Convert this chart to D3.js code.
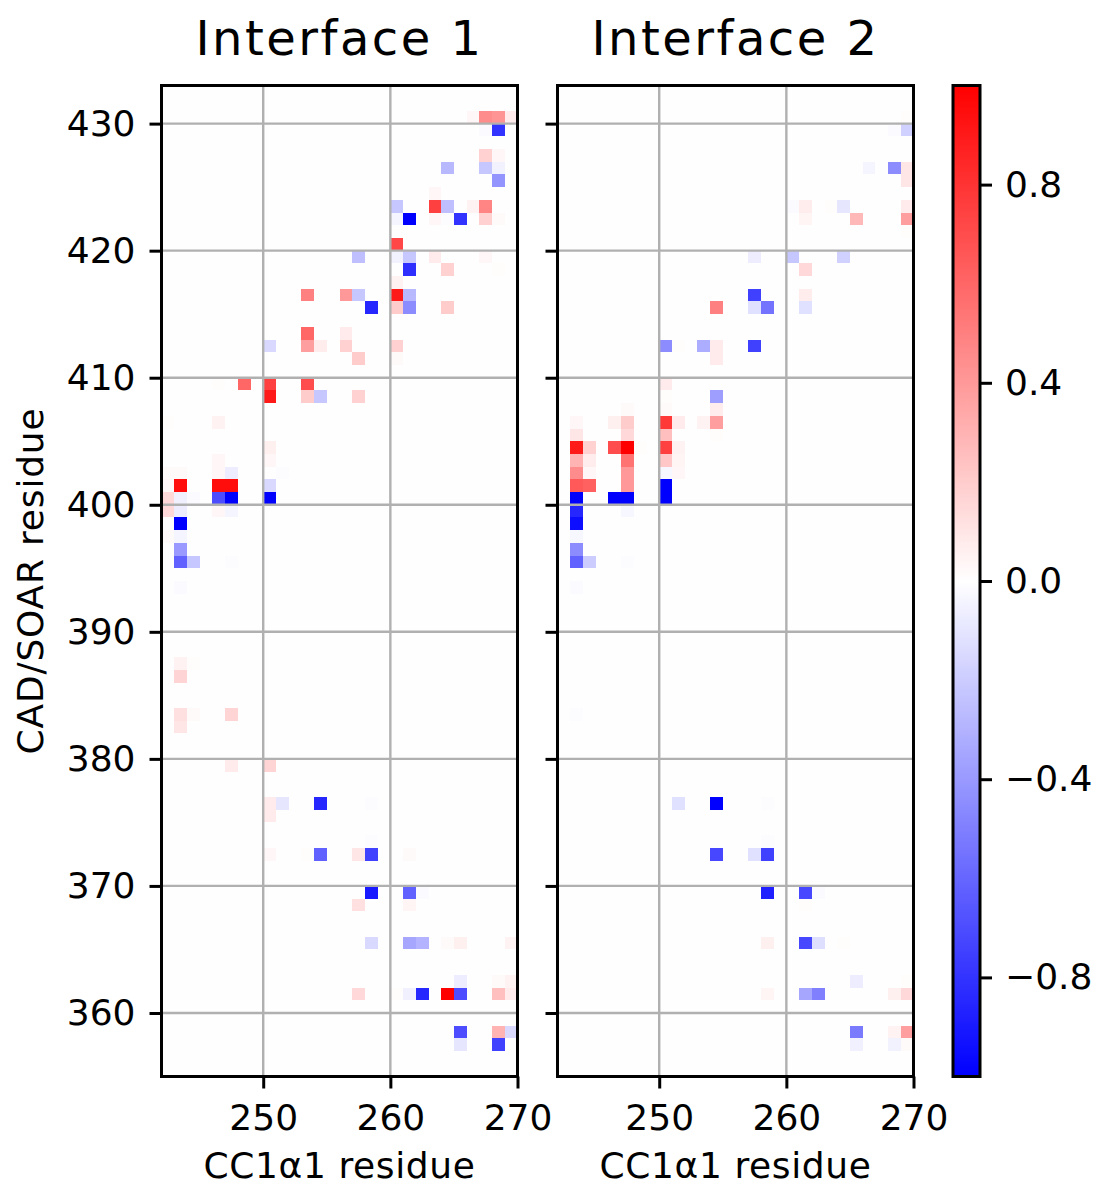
<!DOCTYPE html>
<html>
<head>
<meta charset="utf-8">
<script src="https://cdn.jsdelivr.net/npm/d3@7"></script>
<style>
  body { margin: 0; background: #fff; }
  text { font-family: "DejaVu Sans", sans-serif; fill: #000; }
</style>
</head>
<body>
<div id="chart"></div>
<script>
// tick values and titles
const xTicks = [250, 260, 270];
const yTicks = [360, 370, 380, 390, 400, 410, 420, 430];
const cbTicks = [-0.8, -0.4, 0.0, 0.4, 0.8];
const panelTitles = ["Interface 1", "Interface 2"];

// cells: [CC1a1 residue, CAD/SOAR residue, value]
const interface1 = [
  [266,430,0.03],[267,430,0.45],[268,430,0.42],[269,430,0.08],
  [267,429,-0.02],[268,429,-0.8],
  [267,427,0.18],[268,427,0.03],
  [264,426,-0.28],[267,426,-0.22],[268,426,-0.05],
  [268,425,-0.42],
  [263,424,0.03],
  [260,423,-0.22],[263,423,0.75],[264,423,-0.25],[266,423,0.05],[267,423,0.48],
  [260,422,-0.04],[261,422,-1.0],[263,422,0.03],[264,422,-0.01],[265,422,-0.8],[267,422,0.18],[268,422,0.02],
  [260,420,0.72],
  [257,419,-0.25],[260,419,-0.05],[261,419,-0.22],[263,419,0.08],[267,419,0.03],
  [261,418,-0.82],[264,418,0.18],[268,418,0.01],
  [260,417,0.05],
  [253,416,0.5],[256,416,0.4],[257,416,-0.22],[260,416,0.9],[261,416,-0.28],
  [258,415,-0.85],[260,415,0.2],[261,415,-0.45],[264,415,0.2],
  [253,413,0.6],[256,413,0.08],
  [250,412,-0.15],[253,412,0.38],[254,412,0.07],[256,412,0.18],[260,412,0.18],
  [257,411,0.2],[260,411,0.02],
  [246,409,0.01],[248,409,0.6],[250,409,0.75],[253,409,0.7],
  [250,408,0.9],[253,408,0.2],[254,408,-0.22],[257,408,0.18],
  [242,406,0.01],[246,406,0.05],
  [250,404,0.06],
  [246,403,0.03],[250,403,0.03],
  [242,402,0.02],[243,402,0.02],[246,402,0.03],[247,402,-0.07],[251,402,-0.01],
  [242,401,0.03],[243,401,0.95],[246,401,0.95],[247,401,0.95],[250,401,-0.15],
  [242,400,0.15],[243,400,-0.06],[244,400,-0.02],[246,400,-0.7],[247,400,-1.0],[250,400,-1.0],
  [242,399,0.15],[243,399,-0.07],[246,399,0.03],[247,399,-0.04],
  [243,398,-1.0],
  [242,397,0.02],[243,397,-0.04],
  [243,396,-0.4],
  [243,395,-0.62],[244,395,-0.22],[247,395,-0.01],
  [243,393,-0.02],
  [243,387,0.05],[244,387,0.01],
  [243,386,0.17],
  [243,383,0.12],[244,383,0.02],[247,383,0.17],
  [243,382,0.1],
  [247,379,0.08],[250,379,0.17],
  [250,376,0.08],[251,376,-0.1],[254,376,-0.85],[258,376,-0.01],
  [250,375,0.08],
  [258,373,-0.01],
  [250,372,0.03],[253,372,0.01],[254,372,-0.62],[257,372,0.1],[258,372,-0.75],[261,372,0.02],
  [258,369,-0.9],[261,369,-0.62],[262,369,-0.02],
  [257,368,0.12],[261,368,0.04],
  [258,365,-0.15],[261,365,-0.35],[262,365,-0.3],[264,365,0.02],[265,365,0.06],[269,365,0.05],
  [265,362,-0.07],[268,362,0.02],[269,362,0.05],
  [257,361,0.15],[260,361,0.01],[261,361,-0.06],[262,361,-0.85],[264,361,1.0],[265,361,-0.7],[268,361,0.25],[269,361,0.08],
  [265,358,-0.7],[268,358,0.3],[269,358,-0.15],
  [265,357,-0.1],[268,357,-0.75]
];

const interface2 = [
  [269,430,0.01],
  [268,429,-0.02],[269,429,-0.18],
  [266,426,-0.04],[268,426,-0.45],[269,426,0.1],
  [269,425,0.1],
  [260,423,-0.02],[261,423,0.07],[263,423,0.01],[264,423,-0.1],[269,423,0.08],
  [261,422,0.04],[265,422,0.28],[269,422,0.38],
  [269,421,0.01],
  [257,419,-0.07],[260,419,-0.22],[264,419,-0.18],
  [261,418,0.15],
  [257,416,-0.75],[261,416,0.07],
  [254,415,0.5],[257,415,-0.12],[258,415,-0.55],[261,415,-0.12],
  [250,412,-0.45],[251,412,0.01],[253,412,-0.32],[254,412,0.08],[257,412,-0.75],
  [254,411,0.08],
  [250,409,0.08],
  [250,408,0.01],[254,408,-0.38],
  [247,407,0.02],[250,407,0.02],[254,407,0.07],
  [243,406,0.03],[246,406,0.06],[247,406,0.2],[250,406,0.78],[251,406,0.08],[253,406,0.05],[254,406,0.38],
  [243,405,0.1],[247,405,0.15],[250,405,0.25],[254,405,0.01],
  [243,404,0.9],[244,404,0.18],[246,404,0.7],[247,404,1.0],[248,404,0.01],[250,404,0.75],[251,404,0.05],
  [243,403,0.3],[244,403,0.07],[247,403,0.55],[250,403,0.22],[251,403,0.04],
  [243,402,0.45],[244,402,0.03],[247,402,0.4],[250,402,-0.03],[251,402,0.03],
  [243,401,0.65],[244,401,0.62],[247,401,0.4],[250,401,-1.0],
  [243,400,-1.0],[246,400,-1.0],[247,400,-1.0],[250,400,-1.0],
  [243,399,-0.85],[247,399,-0.03],
  [243,398,-0.95],
  [243,397,-0.03],
  [243,396,-0.45],
  [243,395,-0.62],[244,395,-0.2],[247,395,-0.01],
  [243,393,-0.02],
  [243,383,-0.01],
  [251,376,-0.12],[254,376,-1.0],[258,376,-0.01],
  [258,373,-0.01],
  [254,372,-0.72],[257,372,-0.12],[258,372,-0.75],
  [258,369,-0.88],[261,369,-0.72],[262,369,-0.02],
  [261,368,0.01],
  [258,365,0.06],[261,365,-0.72],[262,365,-0.13],[264,365,0.01],
  [265,362,-0.07],[269,362,0.01],
  [258,361,0.04],[261,361,-0.35],[262,361,-0.5],[268,361,0.06],[269,361,0.15],
  [265,358,-0.52],[268,358,0.05],[269,358,0.38],
  [265,357,-0.06],[268,357,-0.05],[269,357,0.02]
];

const w = 1096;
const h = 1188;
const plotTop = 85.5;
const plotBottom = 1076.5;
const panelW = 356;
const panelLeft = [161.5, 557.5];
const cbLeft = 953, cbW = 27;
const tickLen = 12;

// matplotlib "bwr"
const color = d3.scaleLinear()
                .domain([-1, 0, 1])
                .range(["#0000ff", "#ffffff", "#ff0000"])
                .clamp(true);

const yScale = d3.scaleLinear()
                 .domain([355, 433])
                 .range([plotBottom, plotTop]);

const svg = d3.select("#chart")
              .append("svg")
              .attr("width", w)
              .attr("height", h);

const panels = [interface1, interface2];

panels.forEach(function(cells, i) {
  const x0 = panelLeft[i];
  const xScale = d3.scaleLinear()
                   .domain([242, 270])
                   .range([x0, x0 + panelW]);

  const g = svg.append("g");

  // near-zero background
  g.append("rect")
   .attr("x", x0).attr("y", plotTop)
   .attr("width", panelW).attr("height", plotBottom - plotTop)
   .attr("fill", color(0.004));

  g.selectAll("rect.cell")
   .data(cells)
   .enter()
   .append("rect")
   .attr("class", "cell")
   .attr("x", d => xScale(d[0]))
   .attr("y", d => yScale(d[1] + 1))
   .attr("width", d => xScale(d[0] + 1) - xScale(d[0]))
   .attr("height", d => yScale(d[1]) - yScale(d[1] + 1))
   .attr("fill", d => color(d[2]))
   .attr("shape-rendering", "crispEdges");

  // grid on top of the image, like matplotlib
  g.selectAll("line.gx")
   .data(xTicks.filter(t => t < 270))
   .enter().append("line")
   .attr("x1", d => xScale(d)).attr("x2", d => xScale(d))
   .attr("y1", plotTop).attr("y2", plotBottom)
   .attr("stroke", "#b0b0b0").attr("stroke-width", 2.4);

  g.selectAll("line.gy")
   .data(yTicks)
   .enter().append("line")
   .attr("x1", x0).attr("x2", x0 + panelW)
   .attr("y1", d => yScale(d)).attr("y2", d => yScale(d))
   .attr("stroke", "#b0b0b0").attr("stroke-width", 2.4);

  const xAxis = d3.axisBottom(xScale)
                  .tickValues(xTicks)
                  .tickSize(tickLen)
                  .tickPadding(16);
  const gx = g.append("g")
              .attr("transform", "translate(0," + plotBottom + ")")
              .call(xAxis);
  gx.select(".domain").remove();
  gx.selectAll("line").attr("stroke-width", 3);
  gx.selectAll("text").attr("font-size", 36).attr("font-family", "DejaVu Sans");

  const yAxis = d3.axisLeft(yScale)
                  .tickValues(yTicks)
                  .tickSize(tickLen)
                  .tickPadding(14)
                  .tickFormat(i === 0 ? d3.format("d") : () => "");
  const gy = g.append("g")
              .attr("transform", "translate(" + x0 + ",0)")
              .call(yAxis);
  gy.select(".domain").remove();
  gy.selectAll("line").attr("stroke-width", 3);
  gy.selectAll("text").attr("font-size", 36).attr("font-family", "DejaVu Sans");

  // frame
  g.append("rect")
   .attr("x", x0).attr("y", plotTop)
   .attr("width", panelW).attr("height", plotBottom - plotTop)
   .attr("fill", "none")
   .attr("stroke", "#000").attr("stroke-width", 3);

  g.append("text")
   .attr("x", x0 + panelW / 2)
   .attr("y", 55)
   .attr("text-anchor", "middle")
   .attr("font-size", 48)
   .attr("letter-spacing", 2.5)
   .text(panelTitles[i]);

  g.append("text")
   .attr("x", x0 + panelW / 2)
   .attr("y", 1178)
   .attr("text-anchor", "middle")
   .attr("font-size", 36)
   .attr("letter-spacing", 0.6)
   .text("CC1\u03b11 residue");
});

svg.append("text")
   .attr("transform", "translate(43," + (plotTop + plotBottom) / 2 + ") rotate(-90)")
   .attr("text-anchor", "middle")
   .attr("font-size", 36)
   .attr("letter-spacing", 0.8)
   .text("CAD/SOAR residue");

// colorbar
const cbScale = d3.scaleLinear()
                  .domain([-1, 1])
                  .range([plotBottom, plotTop]);

const grad = svg.append("defs")
                .append("linearGradient")
                .attr("id", "cb")
                .attr("x1", 0).attr("y1", 1)
                .attr("x2", 0).attr("y2", 0);
grad.selectAll("stop")
    .data([-1, 0, 1])
    .enter().append("stop")
    .attr("offset", d => (d + 1) / 2)
    .attr("stop-color", d => color(d));

svg.append("rect")
   .attr("x", cbLeft).attr("y", plotTop)
   .attr("width", cbW).attr("height", plotBottom - plotTop)
   .attr("fill", "url(#cb)")
   .attr("stroke", "#000").attr("stroke-width", 3);

const cbAxis = d3.axisRight(cbScale)
                 .tickValues(cbTicks)
                 .tickSize(tickLen)
                 .tickPadding(13)
                 .tickFormat(d => d < 0 ? "\u2212" + d3.format(".1f")(-d) : d3.format(".1f")(d));
const gc = svg.append("g")
              .attr("transform", "translate(" + (cbLeft + cbW) + ",0)")
              .call(cbAxis);
gc.select(".domain").remove();
gc.selectAll("line").attr("stroke-width", 3);
gc.selectAll("text").attr("font-size", 36).attr("font-family", "DejaVu Sans");
</script>
</body>
</html>
